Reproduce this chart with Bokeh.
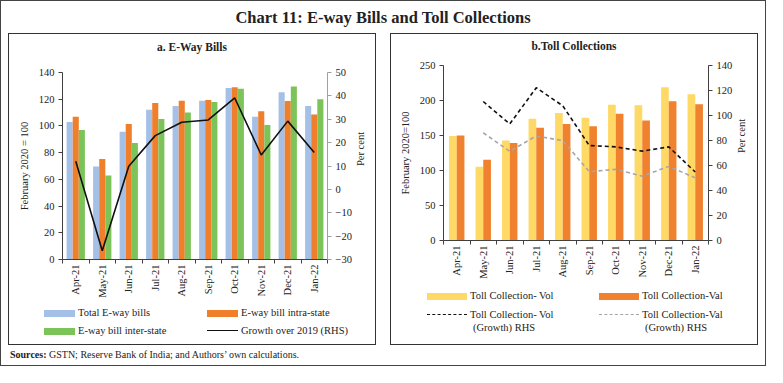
import math
from bokeh.plotting import figure
from bokeh.models import (FactorRange, Range1d, LinearAxis, CategoricalAxis, FixedTicker,
                          Div, Spacer, ColumnDataSource)
from bokeh.layouts import column, row
from bokeh.transform import dodge
from bokeh.embed import file_html
from bokeh.resources import INLINE

# ---------------- data ----------------
months = ["Apr-21", "May-21", "Jun-21", "Jul-21", "Aug-21", "Sep-21", "Oct-21", "Nov-21", "Dec-21", "Jan-22"]

eway_total = [102.9, 69.7, 95.6, 112.2, 115.0, 118.9, 128.4, 106.8, 125.2, 115.0]
eway_intra = [106.8, 75.2, 101.5, 117.1, 118.9, 119.4, 128.9, 110.9, 118.7, 108.5]
eway_inter = [97.0, 62.8, 87.2, 105.1, 110.0, 118.0, 127.9, 100.7, 129.6, 119.9]
eway_growth = [12.0, -26.3, 9.9, 23.0, 28.7, 29.7, 39.1, 14.7, 29.2, 15.8]

toll_vol = [149.2, 105.5, 142.7, 173.8, 182.2, 175.2, 193.8, 193.3, 218.9, 209.1]
toll_val = [150.1, 115.2, 139.4, 161.2, 166.4, 163.1, 181.2, 171.5, 198.9, 194.7]
toll_vol_growth = [float("nan"), 111.2, 93.2, 122.2, 107.8, 76.0, 74.9, 71.5, 74.9, 54.8]
toll_val_growth = [float("nan"), 86.2, 71.3, 83.6, 79.9, 55.1, 56.9, 51.4, 59.3, 50.1]

left_ticks_a = [0, 20, 40, 60, 80, 100, 120, 140]
right_ticks_a = [-30, -20, -10, 0, 10, 20, 30, 40, 50]
left_ticks_b = [0, 50, 100, 150, 200, 250]
right_ticks_b = [0, 20, 40, 60, 80, 100, 120, 140]

legend_a_labels = ["Total E-way bills", "E-way bill intra-state",
                   "E-way bill inter-state", "Growth over 2019 (RHS)"]
legend_b_labels = ["Toll Collection- Vol", "Toll Collection-Val",
                   "Toll Collection- Vol", "Toll Collection-Val"]
legend_b_sub = ["(Growth) RHS", "(Growth) RHS"]

FONT = "Liberation Serif"
TXT = "#222222"
C_TOTAL, C_INTRA, C_INTER = "#a5c0e6", "#f07f2c", "#7cc35a"
C_VOL, C_VAL = "#ffd966", "#f0812f"
C_LINE, C_GREY = "#111111", "#a6a6a6"


def style_axis(ax, color="#404040"):
    ax.axis_line_color = color
    ax.major_tick_line_color = color
    ax.minor_tick_line_color = None
    ax.major_tick_out = 4
    ax.major_tick_in = 0
    ax.major_label_text_font = FONT
    ax.major_label_text_font_size = "10.5px"
    ax.major_label_text_color = TXT
    ax.major_label_standoff = 4
    ax.axis_label_text_font = FONT
    ax.axis_label_text_font_size = "10.5px"
    ax.axis_label_text_font_style = "normal"
    ax.axis_label_text_color = TXT
    ax.axis_label_standoff = 6


def make_panel(ylabel, ymax, rmin, rmax, lticks, rticks, height, top, frame_h, left, right_col):
    p = figure(width=366, height=height, title=None,
               x_range=FactorRange(factors=months, range_padding=0),
               y_range=Range1d(0, ymax),
               output_backend="svg", toolbar_location=None,
               x_axis_location=None, y_axis_location=None,
               min_border_left=left, min_border_right=366 - left - 265,
               min_border_top=top, min_border_bottom=height - top - frame_h,
               outline_line_color=None, background_fill_color="white",
               border_fill_color="white")
    p.grid.visible = False
    p.extra_y_ranges = {"rhs": Range1d(rmin, rmax)}

    ya = LinearAxis(ticker=FixedTicker(ticks=lticks), axis_label=ylabel)
    style_axis(ya)
    p.add_layout(ya, "left")
    yr = LinearAxis(y_range_name="rhs", ticker=FixedTicker(ticks=rticks), axis_label="Per cent")
    style_axis(yr, right_col)
    if "axis_label_orientation" in yr.properties():
        yr.axis_label_orientation = math.pi / 2
    p.add_layout(yr, "right")

    # category-boundary tick marks (synthetic coordinates 0..N of the factor range), no labels
    xe = LinearAxis(ticker=FixedTicker(ticks=list(range(len(months) + 1))))
    style_axis(xe)
    xe.major_label_text_font_size = "1px"
    xe.major_label_text_color = None
    xe.major_label_standoff = 0
    p.add_layout(xe, "below")
    xc = CategoricalAxis()
    style_axis(xc)
    xc.axis_line_color = None
    xc.major_tick_line_color = None
    xc.major_tick_out = 0
    xc.major_label_orientation = math.pi / 2
    xc.major_label_standoff = 1
    p.add_layout(xc, "below")
    return p


def legend_div(height, keys, texts):
    """keys: (left, y, width, kind, color); texts: (left, y, label)"""
    parts = ['<div style="position:relative;width:366px;height:%dpx;font-family:\'Liberation Serif\';'
             'font-size:10.5px;color:#222;">' % height]
    for (x, y, w, kind, col) in keys:
        if kind == "bar":
            parts.append('<span style="position:absolute;left:%spx;top:%spx;width:%spx;height:7px;'
                         'background:%s;"></span>' % (x, y - 3.5, w, col))
        else:
            style = "solid" if kind == "line" else "dashed"
            parts.append('<span style="position:absolute;left:%spx;top:%spx;width:%spx;height:0;'
                         'border-top:1.6px %s %s;"></span>' % (x, y - 0.8, w, style, col))
    for (x, y, lab) in texts:
        parts.append('<span style="position:absolute;left:%spx;top:%spx;line-height:14px;'
                     'white-space:nowrap;">%s</span>' % (x, y - 7, lab))
    parts.append("</div>")
    return Div(text="".join(parts), width=366, height=height, margin=0)


def subtitle(text, h):
    return Div(text='<div style="font-family:\'Liberation Serif\';font-size:11.5px;font-weight:bold;'
                    'text-align:center;line-height:%dpx;color:#222;width:366px;">%s</div>' % (h, text),
               width=366, height=h, margin=0)


# ---------------- panel a ----------------
pa = make_panel("February 2020 = 100", 140, -30, 50, left_ticks_a, right_ticks_a,
                height=240, top=12, frame_h=190, left=53, right_col="#a0a0a0")
src_a = ColumnDataSource(dict(month=months, total=eway_total, intra=eway_intra,
                              inter=eway_inter, growth=eway_growth))
bw = 0.23
pa.vbar(x=dodge("month", -bw, range=pa.x_range), top="total", width=bw, source=src_a,
        fill_color=C_TOTAL, line_color=None)
pa.vbar(x="month", top="intra", width=bw, source=src_a, fill_color=C_INTRA, line_color=None)
pa.vbar(x=dodge("month", bw, range=pa.x_range), top="inter", width=bw, source=src_a,
        fill_color=C_INTER, line_color=None)
pa.line(x="month", y="growth", source=src_a, y_range_name="rhs", line_color=C_LINE, line_width=1.6)

ax1, ax2, aw = 35, 198, 31
ay1, ay2 = 13, 31
la = legend_div(44,
                [(ax1, ay1, aw, "bar", C_TOTAL), (ax2, ay1, aw, "bar", C_INTRA),
                 (ax1, ay2, aw, "bar", C_INTER), (ax2, ay2, aw, "line", C_LINE)],
                [(ax1 + aw + 3, ay1, legend_a_labels[0]), (ax2 + aw + 3, ay1, legend_a_labels[1]),
                 (ax1 + aw + 3, ay2, legend_a_labels[2]), (ax2 + aw + 3, ay2, legend_a_labels[3])])

# ---------------- panel b ----------------
pb = make_panel("February 2020=100", 250, 0, 140, left_ticks_b, right_ticks_b,
                height=223, top=7, frame_h=178, left=52, right_col="#404040")
src_b = ColumnDataSource(dict(month=months, vol=toll_vol, val=toll_val,
                              volg=toll_vol_growth, valg=toll_val_growth))
bw2 = 0.29
pb.vbar(x=dodge("month", -bw2 / 2, range=pb.x_range), top="vol", width=bw2, source=src_b,
        fill_color=C_VOL, line_color=None)
pb.vbar(x=dodge("month", bw2 / 2, range=pb.x_range), top="val", width=bw2, source=src_b,
        fill_color=C_VAL, line_color=None)
pb.line(x="month", y="volg", source=src_b, y_range_name="rhs",
        line_color=C_LINE, line_width=1.6, line_dash="4 3")
pb.line(x="month", y="valg", source=src_b, y_range_name="rhs",
        line_color=C_GREY, line_width=1.6, line_dash="4 3")

bx1, bx2, bwid = 36, 208, 40
by1, by2, by3 = 15, 34, 47
lb = legend_div(63,
                [(bx1, by1, bwid, "bar", C_VOL), (bx2, by1, bwid, "bar", C_VAL),
                 (bx1, by2, bwid, "dash", C_LINE), (bx2, by2, bwid, "dash", C_GREY)],
                [(bx1 + bwid + 3, by1, legend_b_labels[0]), (bx2 + bwid + 3, by1, legend_b_labels[1]),
                 (bx1 + bwid + 3, by2, legend_b_labels[2]), (bx2 + bwid + 3, by2, legend_b_labels[3]),
                 (bx1 + bwid + 6, by3, legend_b_sub[0]), (bx2 + bwid + 6, by3, legend_b_sub[1])])

box_style = {"border": "1px solid #333"}
panel_a = column(subtitle("a. E-Way Bills", 26), pa, la, styles=box_style, spacing=0)
panel_b = column(subtitle("b.Toll Collections", 24), pb, lb, styles=box_style, spacing=0)

# ---------------- page ----------------
title_div = Div(text='<div style="font-family:\'Liberation Serif\';font-size:16.5px;font-weight:bold;'
                     'text-align:center;line-height:34px;color:#222;width:764px;">'
                     'Chart 11: E-way Bills and Toll Collections</div>',
                width=764, height=32, margin=0)
src_div = Div(text='<div style="font-family:\'Liberation Serif\';font-size:10px;line-height:20px;'
                   'color:#222;padding-left:9px;"><b>Sources:</b> GSTN; Reserve Bank of India; '
                   'and Authors\u2019 own calculations.</div>',
              width=764, height=20, margin=0)

panels = row(Spacer(width=7, margin=0), panel_a, Spacer(width=14, margin=0), panel_b,
             Spacer(width=7, margin=0), spacing=0)
page = column(title_div, panels, src_div, styles={"border": "1px solid #444"}, spacing=0)

open("out.html", "w").write(file_html(page, INLINE))
